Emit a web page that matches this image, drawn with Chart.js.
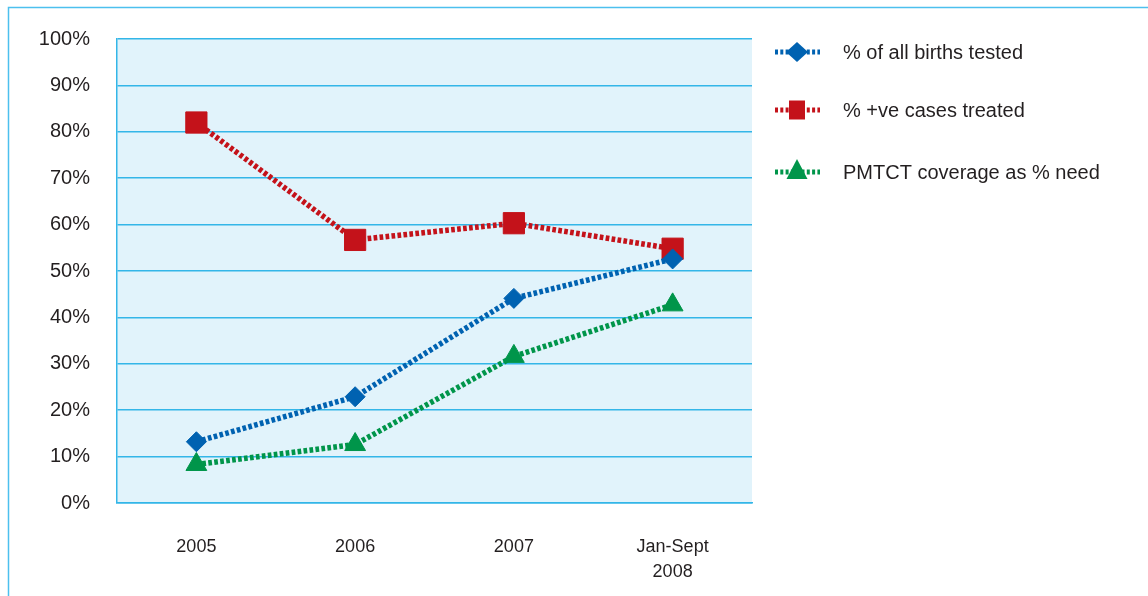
<!DOCTYPE html>
<html>
<head>
<meta charset="utf-8">
<script src="https://cdn.jsdelivr.net/npm/chart.js@4.4.1/dist/chart.umd.min.js"></script>
<style>
  html, body { margin: 0; padding: 0; background: #fff; }
  #wrap { width: 1148px; height: 596px; position: relative; }
</style>
</head>
<body>
<div id="wrap"><canvas id="grafica" width="1148" height="596"></canvas></div>
<script>
(function(){
    // datos
    const categorias = ['2005', '2006', '2007', ['Jan-Sept', '2008']];
    const nacimientosTesteados = [13.2, 22.9, 44.1, 52.6];
    const casosTratados = [82.0, 56.7, 60.3, 54.8];
    const coberturaPmtct = [8.3, 12.6, 31.6, 42.7];
    const etiquetas = ['% of all births tested', '% +ve cases treated', 'PMTCT coverage as % need'];

    const azul = '#0062b1';
    const rojo = '#c4121a';
    const verde = '#00954a';
    const cian = '#33b6e8';
    const texto = '#231f20';
    const fuente = "'Liberation Sans', Arial, sans-serif";

    // fondo del area de trazado y marco exterior
    const fondo = {
        id: 'fondo',
        beforeDraw(chart){
            const {ctx, chartArea} = chart;
            ctx.save();
            ctx.fillStyle = '#e1f3fb';
            ctx.fillRect(chartArea.left, chartArea.top, chartArea.right - chartArea.left, chartArea.bottom - chartArea.top);
            ctx.strokeStyle = '#4cc0ee';
            ctx.lineWidth = 1.5;
            ctx.beginPath();
            ctx.moveTo(1148, 7.5);
            ctx.lineTo(8.5, 7.5);
            ctx.lineTo(8.5, 596);
            ctx.stroke();
            ctx.restore();
        }
    };

    // leyenda dibujada a mano: linea punteada + marcador
    const leyenda = {
        id: 'leyenda',
        afterDraw(chart){
            const ctx = chart.ctx;
            const filas = [52, 110, 172];
            chart.data.datasets.forEach((ds, i) => {
                const y = filas[i];
                ctx.save();
                ctx.strokeStyle = ds.borderColor;
                ctx.lineWidth = 5;
                ctx.setLineDash([3, 2.3]);
                ctx.beginPath();
                ctx.moveTo(775, y);
                ctx.lineTo(820, y);
                ctx.stroke();
                ctx.setLineDash([]);
                ctx.fillStyle = ds.backgroundColor;
                ctx.beginPath();
                if(ds.pointStyle === 'rectRot'){
                    ctx.moveTo(797, y - 10);
                    ctx.lineTo(808, y);
                    ctx.lineTo(797, y + 10);
                    ctx.lineTo(786, y);
                } else if(ds.pointStyle === 'rect'){
                    ctx.rect(789, y - 9.5, 16, 19);
                } else {
                    ctx.moveTo(797, y - 13);
                    ctx.lineTo(807.5, y + 7);
                    ctx.lineTo(786.5, y + 7);
                }
                ctx.closePath();
                ctx.fill();
                ctx.fillStyle = texto;
                ctx.font = '20px ' + fuente;
                ctx.textBaseline = 'middle';
                ctx.fillText(ds.label, 843, y + 1);
                ctx.restore();
            });
        }
    };

    function serie(label, data, color, estilo, radio){
        return {
            label: label,
            data: data,
            borderColor: color,
            backgroundColor: color,
            borderWidth: 5.5,
            borderDash: [3.7, 2.3],
            tension: 0,
            pointStyle: estilo,
            pointRadius: radio,
            pointHoverRadius: radio,
            pointBorderWidth: 1,
            pointBorderColor: color,
            pointBackgroundColor: color
        };
    }

    const ctx = document.getElementById('grafica');
    new Chart(ctx, {
        type: 'line',
        data: {
            labels: categorias,
            datasets: [
                serie(etiquetas[0], nacimientosTesteados, azul, 'rectRot', 10),
                serie(etiquetas[1], casosTratados, rojo, 'rect', 15),
                serie(etiquetas[2], coberturaPmtct, verde, 'triangle', 12)
            ]
        },
        options: {
            responsive: false,
            animation: false,
            layout: {
                padding: { left: 0, top: 38, right: 396, bottom: 0 }
            },
            scales: {
                x: {
                    offset: true,
                    grid: { display: false, drawTicks: false },
                    border: { display: true, color: cian, width: 1.5 },
                    ticks: {
                        padding: 31,
                        color: texto,
                        font: { family: fuente, size: 18, lineHeight: 1.4 },
                        maxRotation: 0
                    },
                    afterFit(scale){ scale.height = 93; }
                },
                y: {
                    min: 0,
                    max: 100,
                    grid: { color: cian, lineWidth: 1.5, drawTicks: false },
                    border: { display: true, color: cian, width: 1.5 },
                    ticks: {
                        stepSize: 10,
                        padding: 27,
                        color: texto,
                        font: { family: fuente, size: 20 },
                        callback: v => v + '%'
                    },
                    afterFit(scale){ scale.width = 117; }
                }
            },
            plugins: {
                legend: { display: false },
                tooltip: { enabled: false }
            }
        },
        plugins: [fondo, leyenda]
    });
})();
</script>
</body>
</html>
